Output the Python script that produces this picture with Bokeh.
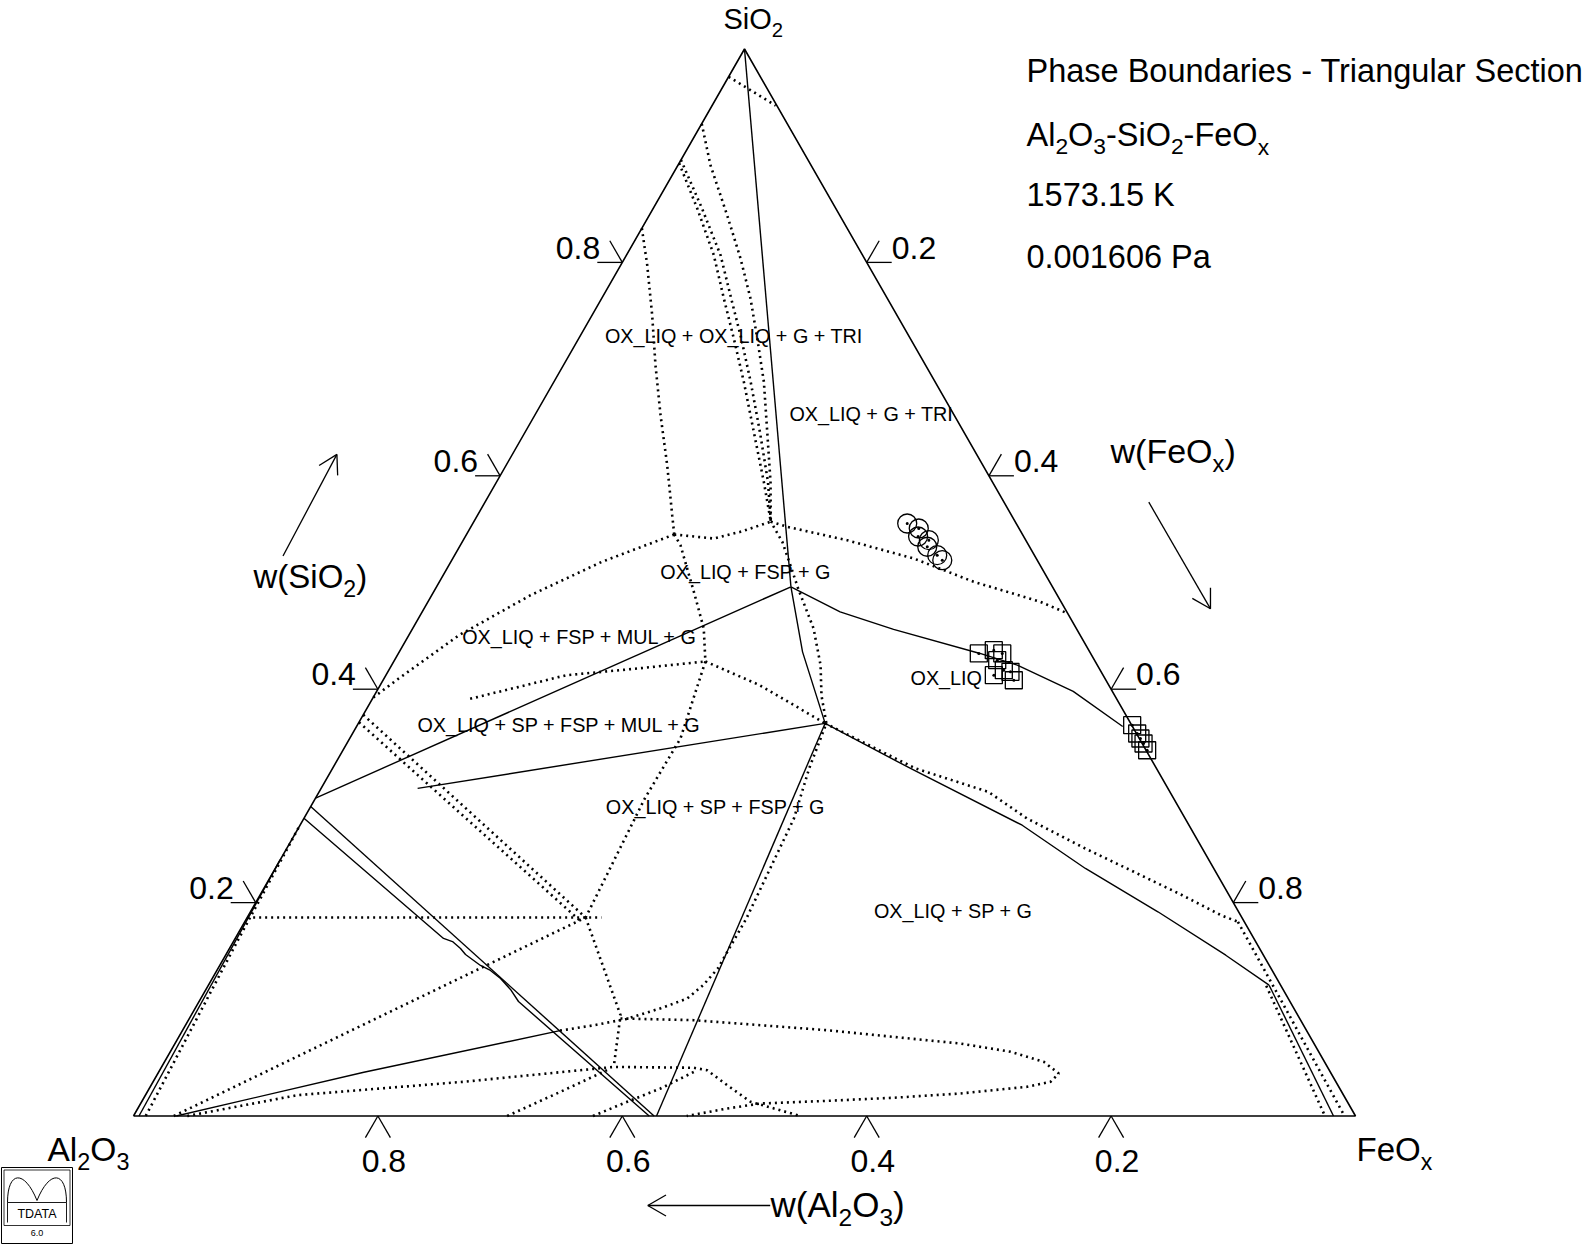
import numpy as np
from bokeh.plotting import figure
from bokeh.models import Range1d
from bokeh.embed import file_html
from bokeh.resources import INLINE
from bokeh.core.properties import value

FONT = "Liberation Sans"

# ---------------- data: phase boundaries as (wFeOx, wSiO2) ----------------
sol_apex_j1 = [(0.0, 1.0), (0.290, 0.496)]
sol_j1_left = [(0.290, 0.496), (0.0, 0.298)]
sol_j2_left = [(0.382, 0.368), (0.079, 0.307)]
sol_j1_j2 = [(0.290, 0.496), (0.330, 0.435), (0.382, 0.368)]
sol_j1_right = [(0.290, 0.496), (0.342, 0.4725), (0.394, 0.456), (0.476, 0.4335),
                (0.512, 0.4225), (0.570, 0.398), (0.627, 0.365)]
sol_j2_bottom = [(0.382, 0.368), (0.428, 0.0)]
sol_j2_right = [(0.382, 0.368), (0.473, 0.3257), (0.591, 0.2725), (0.663, 0.232),
                (0.7426, 0.1914), (0.8185, 0.1507), (0.868, 0.1226)]
sol_double_a = [(0.0, 0.290), (0.426, 0.0)]
sol_double_b = [(0.0, 0.279), (0.1705, 0.1664), (0.1793, 0.1635), (0.1891, 0.157),
                (0.196, 0.1514), (0.2134, 0.1411), (0.2239, 0.1364), (0.2359, 0.1289),
                (0.2492, 0.1186), (0.2614, 0.1073), (0.422, 0.0)]
sol_left_inner = [(0.0, 0.24), (0.0045, 0.0)]
sol_right_inner = [(0.868, 0.1226), (0.982, 0.0)]
sol_corner_fan = [(0.035, 0.0), (0.168, 0.041), (0.309, 0.080)]

dot_apex = [(0.0, 0.974), (0.052, 0.947)]
dot_d1 = [(0.0, 0.930), (0.0266, 0.8911), (0.0637, 0.8442), (0.0949, 0.8037), (0.1218, 0.7662),
          (0.1461, 0.7287), (0.1718, 0.6881), (0.198, 0.6412), (0.2241, 0.5944), (0.243, 0.557)]
dot_d2 = [(0.0, 0.893), (0.0361, 0.8505), (0.0715, 0.8068), (0.100, 0.7662), (0.1269, 0.7287),
          (0.1554, 0.6881), (0.187, 0.6412), (0.2186, 0.5944), (0.243, 0.557)]
dot_d3 = [(0.0, 0.896), (0.040, 0.8505), (0.077, 0.8068), (0.106, 0.7662), (0.133, 0.7287),
          (0.161, 0.6881), (0.192, 0.6412), (0.222, 0.5944), (0.243, 0.557)]
dot_d4 = [(0.0, 0.832), (0.0217, 0.7974), (0.0492, 0.7505), (0.0753, 0.7037), (0.1029, 0.6568),
          (0.1318, 0.6099), (0.1593, 0.5631), (0.170, 0.545)]
dot_j4_j3 = [(0.170, 0.545), (0.2043, 0.5412), (0.2229, 0.5475), (0.243, 0.557)]
dot_j3_right = [(0.243, 0.557), (0.2588, 0.5522), (0.3142, 0.5396), (0.3772, 0.5225),
                (0.4372, 0.5007), (0.5012, 0.4819), (0.529, 0.471)]
dot_loop_j3 = [(0.309, 0.080), (0.334, 0.085), (0.358, 0.091), (0.381, 0.101), (0.398, 0.110),
               (0.405, 0.123), (0.409, 0.138), (0.409, 0.148), (0.409, 0.185), (0.405, 0.232),
               (0.401, 0.279), (0.390, 0.326), (0.383, 0.368), (0.366, 0.394), (0.351, 0.4225),
               (0.328, 0.457), (0.297, 0.494), (0.282, 0.513), (0.262, 0.538), (0.243, 0.557)]
dot_j4_j6 = [(0.170, 0.545), (0.1801, 0.535), (0.2153, 0.4881), (0.2382, 0.4569), (0.255, 0.426)]
dot_j4_left = [(0.170, 0.545), (0.1236, 0.5194), (0.0809, 0.4881), (0.0411, 0.4506),
               (0.012, 0.410), (0.0, 0.392)]
dot_mid_j6 = [(0.080, 0.391), (0.1476, 0.4131), (0.2027, 0.4194), (0.255, 0.426)]
dot_j6_j2 = [(0.255, 0.426), (0.310, 0.404), (0.382, 0.368)]
dot_j6_j5 = [(0.255, 0.426), (0.2707, 0.3538), (0.2696, 0.2976), (0.277, 0.186)]
dot_edge_j5_a = [(0.0, 0.376), (0.277, 0.186)]
dot_edge_j5_b = [(0.0, 0.369), (0.274, 0.183)]
dot_horizontal = [(0.0, 0.186), (0.290, 0.186)]
dot_corner_j5 = [(0.033, 0.0), (0.277, 0.186)]
dot_j5_down = [(0.277, 0.186), (0.3513, 0.0945), (0.370, 0.046)]
dot_low_1 = [(0.044, 0.0), (0.1242, 0.0195), (0.2543, 0.0321), (0.370, 0.046), (0.4359, 0.0452),
             (0.448, 0.0429), (0.4714, 0.0289), (0.4983, 0.0133), (0.5458, 0.0)]
dot_low_2 = [(0.3058, 0.0), (0.3381, 0.0227), (0.366, 0.043)]
dot_low_3 = [(0.376, 0.0), (0.3973, 0.0133), (0.4184, 0.0258), (0.434, 0.0382), (0.4398, 0.0429)]
dot_ellipse = [(0.3528, 0.0914), (0.4136, 0.0898), (0.4706, 0.0851), (0.5275, 0.0804),
               (0.5852, 0.0741), (0.6428, 0.0679), (0.6876, 0.0602), (0.7195, 0.0508),
               (0.7373, 0.0398), (0.7344, 0.0321), (0.7176, 0.0274), (0.6662, 0.0211),
               (0.6136, 0.0171), (0.5606, 0.0142), (0.5072, 0.0117), (0.4823, 0.007), (0.4527, 0.0)]
dot_j2_right = [(0.382, 0.368), (0.4772, 0.3257), (0.5476, 0.3038), (0.5919, 0.2788),
                (0.6535, 0.2507), (0.7041, 0.2289), (0.7548, 0.2069), (0.7958, 0.1882), (0.8128, 0.182)]
dot_right_edge_a = [(0.8128, 0.182), (0.874, 0.1195), (0.991, 0.0)]
dot_right_edge_b = [(0.866, 0.122), (0.975, 0.0)]
dot_left_edge = [(0.0, 0.27), (0.003, 0.166), (0.010, 0.0)]

solid_lines = [sol_apex_j1, sol_j1_left, sol_j2_left, sol_j1_j2, sol_j1_right, sol_j2_bottom,
               sol_j2_right, sol_double_a, sol_double_b, sol_left_inner, sol_right_inner,
               sol_corner_fan]
dotted_lines = [dot_apex, dot_d1, dot_d2, dot_d3, dot_d4, dot_j4_j3, dot_j3_right, dot_loop_j3,
                dot_j4_j6, dot_j4_left, dot_mid_j6, dot_j6_j2, dot_j6_j5, dot_edge_j5_a,
                dot_edge_j5_b, dot_horizontal, dot_corner_j5, dot_j5_down, dot_low_1, dot_low_2,
                dot_low_3, dot_ellipse, dot_j2_right, dot_right_edge_a, dot_right_edge_b,
                dot_left_edge]

# experimental points (wFeOx, wSiO2)
circ_feox = [0.3555, 0.3673, 0.3705, 0.3810, 0.3828, 0.3949, 0.4014]
circ_sio2 = [0.5553, 0.5506, 0.5431, 0.5397, 0.5335, 0.5256, 0.5209]
sq_feox = [0.475, 0.4857, 0.4942, 0.4932, 0.4975, 0.5033, 0.5095, 0.5162,
           0.6341, 0.6421, 0.6471, 0.652, 0.6581]
sq_sio2 = [0.4335, 0.4366, 0.4335, 0.4272, 0.4131, 0.4178, 0.4163, 0.4084,
           0.3663, 0.3585, 0.3538, 0.3491, 0.3428]

tick_values = [0.2, 0.4, 0.6, 0.8]
tick_labels = ["0.2", "0.4", "0.6", "0.8"]

phase_labels = ["OX_LIQ + OX_LIQ + G + TRI", "OX_LIQ + G + TRI", "OX_LIQ + FSP + G",
                "OX_LIQ + FSP + MUL + G", "OX_LIQ + SP + FSP + MUL + G",
                "OX_LIQ + SP + FSP + G", "OX_LIQ + SP + G"]
title_lines = ["Phase Boundaries - Triangular Section", None, "1573.15 K", "0.001606 Pa"]

# ---------------- geometry (page pixels) ----------------
X0PX, Y0PX, WPX, HPX = 133.0, 1115.5, 1222.0, 1067.0
FW, FH = 1586, 1244


def tern(pts):
    f = np.array([q[0] for q in pts], float)
    s = np.array([q[1] for q in pts], float)
    return list(f + s / 2.0), list(s)


def pxX(px):
    return (px - X0PX) / WPX


def pxY(py):
    return (Y0PX - py) / HPX


def to_px(f, s):
    X = f + s / 2.0
    return X0PX + X * WPX, Y0PX - s * HPX


p = figure(width=FW, height=FH,
           x_range=Range1d(pxX(0), pxX(FW)), y_range=Range1d(pxY(FH), pxY(0)),
           x_axis_type=None, y_axis_type=None, output_backend="svg",
           toolbar_location=None, min_border=0)
p.outline_line_color = None
p.background_fill_color = "white"
p.border_fill_color = "white"

# triangle
tx, ty = tern([(0, 0), (1, 0), (0, 1), (0, 0)])
p.line(tx, ty, line_color="black", line_width=1.6)

# boundaries
xs, ys = zip(*[tern(l) for l in solid_lines])
p.multi_line(list(xs), list(ys), line_color="black", line_width=1.4)
xs, ys = zip(*[tern(l) for l in dotted_lines])
p.multi_line(list(xs), list(ys), line_color="black", line_width=2.6, line_dash="2 4",
             line_cap="butt")

# markers
cx, cy = tern(list(zip(circ_feox, circ_sio2)))
p.scatter(cx, cy, marker="circle", size=19, fill_color=None, line_color="black", line_width=1.3)
p.scatter(cx, cy, marker="circle", size=3, fill_color="black", line_color=None)
sx, sy = tern(list(zip(sq_feox, sq_sio2)))
p.scatter(sx, sy, marker="square", size=17, fill_color=None, line_color="black", line_width=1.3)
p.scatter(sx, sy, marker="circle", size=3, fill_color="black", line_color=None)

# ---------------- text helpers ----------------
W = {' ': 278, '(': 333, ')': 333, '+': 584, '-': 333, '.': 278, 'A': 667, 'B': 667, 'F': 611,
     'G': 778, 'I': 278, 'K': 667, 'L': 556, 'M': 833, 'O': 778, 'P': 667, 'Q': 778, 'R': 722,
     'S': 667, 'T': 611, 'U': 722, 'X': 667, '_': 556, 'a': 556, 'c': 500, 'd': 556, 'e': 556,
     'g': 556, 'h': 556, 'i': 222, 'l': 222, 'n': 556, 'o': 556, 'r': 333, 's': 500, 't': 278,
     'u': 556, 'w': 722, 'x': 500}
for d in "0123456789":
    W[d] = 556

BIAS = 0.43  # renderer places the alphabetic baseline this many em too low


def twidth(t, size):
    return sum(W.get(c, 556) for c in t) * size / 1000.0


def txt(t, px, py, size, align="left"):
    p.text(x=[pxX(px)], y=[pxY(py - BIAS * size)], text=[t], text_font=value(FONT),
           text_font_size=f"{size:.1f}px", text_align=align, text_baseline="alphabetic",
           text_color="black")


def rich(parts, px, py, size, align="left", sub=0.7):
    sizes = [size * (sub if sb else 1.0) for _, sb in parts]
    total = sum(twidth(t, sz) for (t, _), sz in zip(parts, sizes))
    x = px - (total if align == "right" else total / 2.0 if align == "center" else 0.0)
    for (t, sb), sz in zip(parts, sizes):
        txt(t, x, py + (0.25 * size if sb else 0.0), sz)
        x += twidth(t, sz)


def seg(x0, y0, x1, y1, w=1.3):
    p.segment(x0=[pxX(x0)], y0=[pxY(y0)], x1=[pxX(x1)], y1=[pxY(y1)],
              line_color="black", line_width=w)


# ---------------- ticks ----------------
L = 25.0
for v, lab in zip(tick_values, tick_labels):
    bx, by = to_px(1 - v, 0.0)            # w(Al2O3) = v
    seg(bx, by, bx - L * 0.5, by + L * 0.866)
    seg(bx, by, bx + L * 0.5, by + L * 0.866)
    txt(lab, bx + 6, 1174, 32, align="center")
    lx, ly = to_px(0.0, v)                # w(SiO2) = v
    seg(lx, ly, lx - L, ly)
    seg(lx, ly, lx - L * 0.5, ly - L * 0.866)
    txt(lab, lx - 22, ly - 1, 32, align="right")
    rx, ry = to_px(v, 1 - v)              # w(FeOx) = v
    seg(rx, ry, rx + L, ry)
    seg(rx, ry, rx + L * 0.5, ry - L * 0.866)
    txt(lab, rx + 25, ry - 1, 32, align="left")

# ---------------- corner labels ----------------
rich([("SiO", 0), ("2", 1)], 723, 31, 29)
rich([("Al", 0), ("2", 1), ("O", 0), ("3", 1)], 47, 1163, 33.5)
rich([("FeO", 0), ("x", 1)], 1356, 1163, 33)

# ---------------- axis titles and arrows ----------------
rich([("w(SiO", 0), ("2", 1), (")", 0)], 253, 590, 33)
rich([("w(FeO", 0), ("x", 1), (")", 0)], 1110, 465, 34)
rich([("w(Al", 0), ("2", 1), ("O", 0), ("3", 1), (")", 0)], 770, 1219, 35)


def arrow(x0, y0, x1, y1, head=21.0):
    seg(x0, y0, x1, y1)
    ang = np.arctan2(y0 - y1, x0 - x1)
    for da in (np.pi / 6, -np.pi / 6):
        seg(x1, y1, x1 + head * np.cos(ang + da), y1 + head * np.sin(ang + da))


arrow(282.5, 555.5, 336.4, 453.9)
arrow(1148.3, 501.7, 1210.0, 608.3)
arrow(769.7, 1205.0, 647.3, 1205.0)

# ---------------- title block ----------------
TS = 32.5
txt(title_lines[0], 1026, 84, TS)
rich([("Al", 0), ("2", 1), ("O", 0), ("3", 1), ("-SiO", 0), ("2", 1), ("-FeO", 0), ("x", 1)],
     1026, 148, TS)
txt(title_lines[2], 1026, 208, TS)
txt(title_lines[3], 1026, 270, TS)

# ---------------- phase region labels ----------------
label_pos = [(733.3, 343.7), (870.8, 422.0), (745.0, 580.3), (579.0, 645.3), (558.8, 732.7),
             (715.0, 815.3), (952.6, 918.7)]
for t, (lx, ly) in zip(phase_labels, label_pos):
    txt(t, lx, ly, 19.8, align="center")
txt("OX_LIQ", 910, 686.3, 19.8, align="left")


# ---------------- logo ----------------
def box(x0, y0, x1, y1, w=1.0):
    seg(x0, y0, x1, y0, w); seg(x1, y0, x1, y1, w); seg(x1, y1, x0, y1, w); seg(x0, y1, x0, y0, w)


box(1, 1167, 72, 1243)
box(3.5, 1169.5, 69.5, 1225, 0.8)
seg(7, 1202, 66, 1202, 0.9)
seg(7, 1202, 7, 1222, 0.9)
seg(66, 1202, 66, 1222, 0.9)
p.bezier(x0=[pxX(7)], y0=[pxY(1202)], x1=[pxX(36.5)], y1=[pxY(1200)],
         cx0=[pxX(7)], cy0=[pxY(1170)], cx1=[pxX(24)], cy1=[pxY(1169)],
         line_color="black", line_width=1.0)
p.bezier(x0=[pxX(36.5)], y0=[pxY(1200)], x1=[pxX(66)], y1=[pxY(1202)],
         cx0=[pxX(49)], cy0=[pxY(1169)], cx1=[pxX(66)], cy1=[pxY(1170)],
         line_color="black", line_width=1.0)
txt("TDATA", 36.5, 1219, 12.5, align="center")
txt("6.0", 36.5, 1236, 9, align="center")

open("out.html", "w").write(file_html(p, INLINE))
